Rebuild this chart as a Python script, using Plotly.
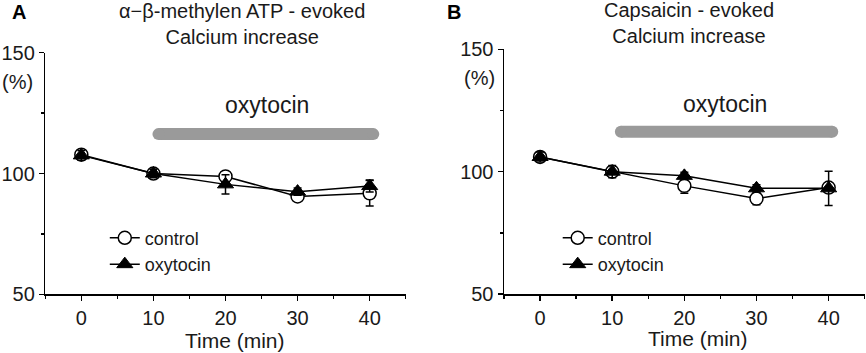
import plotly.graph_objects as go

# ---------------- data ----------------
time_min = [0, 10, 20, 30, 40]

# Panel A: alpha-beta-methylen ATP - evoked
a_control = [107.8, 100.0, 98.8, 90.5, 91.8]
a_control_err = [1.5, 1.2, 1.5, 1.5, 5.3]
a_oxytocin = [107.5, 100.0, 95.5, 92.5, 94.8]
a_oxytocin_err = [2.0, 1.8, 4.0, 1.5, 2.5]

# Panel B: Capsaicin - evoked
b_control = [106.0, 100.0, 94.2, 89.0, 93.5]
b_control_err = [1.5, 1.5, 3.0, 2.5, 2.0]
b_oxytocin = [106.0, 100.0, 98.3, 93.2, 93.2]
b_oxytocin_err = [2.0, 2.5, 1.5, 1.5, 7.0]

# oxytocin application bar
a_bar_x = [10.7, 40.5]
b_bar_x = [11.2, 40.5]
bar_level = 116.3

x_ticks = [0, 10, 20, 30, 40]
y_ticks = [50, 100, 150]

FONT = "Liberation Sans, Arial, sans-serif"
TXT = "#1a1a1a"

fig = go.Figure()


def add_panel(xa, ya, ctrl, ctrl_err, oxy, oxy_err, bar_x, legend_name):
    fig.add_trace(go.Scatter(
        x=bar_x, y=[bar_level, bar_level], mode="lines+markers",
        line=dict(color="#9a9a9a", width=12),
        marker=dict(color="#9a9a9a", size=12, symbol="circle"),
        showlegend=False, hoverinfo="skip", xaxis=xa, yaxis=ya))
    fig.add_trace(go.Scatter(
        x=time_min, y=ctrl, name="control", mode="lines+markers",
        line=dict(color="black", width=1.5),
        marker=dict(symbol="circle", size=13, color="white",
                    line=dict(color="black", width=1.5)),
        error_y=dict(type="data", array=ctrl_err, visible=True,
                     color="black", thickness=1.5, width=4),
        legend=legend_name, xaxis=xa, yaxis=ya))
    fig.add_trace(go.Scatter(
        x=time_min, y=oxy, name="oxytocin", mode="lines+markers",
        line=dict(color="black", width=1.5),
        marker=dict(symbol="triangle-up", size=14, color="black",
                    line=dict(color="black", width=1)),
        error_y=dict(type="data", array=oxy_err, visible=True,
                     color="black", thickness=1.5, width=4),
        legend=legend_name, xaxis=xa, yaxis=ya))


add_panel("x", "y", a_control, a_control_err, a_oxytocin, a_oxytocin_err, a_bar_x, "legend")
add_panel("x2", "y2", b_control, b_control_err, b_oxytocin, b_oxytocin_err, b_bar_x, "legend2")

xcommon = dict(range=[-5, 45], tickvals=x_ticks, showline=True, linecolor="black",
               linewidth=1.5, ticks="outside", ticklen=5, tickwidth=1.5,
               tickcolor="black", showgrid=False, zeroline=False,
               tickfont=dict(family=FONT, size=20, color=TXT),
               minor=dict(dtick=5, tick0=0, ticks="outside", ticklen=3,
                          tickwidth=1.5, tickcolor="black", showgrid=False))
ycommon = dict(range=[50, 150], tickvals=y_ticks, showline=True, linecolor="black",
               linewidth=1.5, ticks="outside", ticklen=5, tickwidth=1.5,
               tickcolor="black", showgrid=False, zeroline=False,
               tickfont=dict(family=FONT, size=20, color=TXT),
               minor=dict(dtick=25, tick0=0, ticks="outside", ticklen=3,
                          tickwidth=1.5, tickcolor="black", showgrid=False))

fig.update_layout(
    width=866, height=353,
    margin=dict(l=0, r=0, t=0, b=0),
    paper_bgcolor="white", plot_bgcolor="rgba(0,0,0,0)",
    template="none",
    font=dict(family=FONT, color=TXT),
    xaxis=dict(domain=[0.0523, 0.4685], anchor="y", **xcommon),
    yaxis=dict(domain=[0.1663, 0.8507], anchor="x", **ycommon),
    xaxis2=dict(domain=[0.582, 0.9985], anchor="y2", **xcommon),
    yaxis2=dict(domain=[0.167, 0.8603], anchor="x2", **ycommon),
    legend=dict(x=0.121, y=0.378, xanchor="left", yanchor="top",
                bgcolor="rgba(0,0,0,0)", font=dict(family=FONT, size=18, color=TXT),
                tracegroupgap=0, itemwidth=30),
    legend2=dict(x=0.644, y=0.378, xanchor="left", yanchor="top",
                 bgcolor="rgba(0,0,0,0)", font=dict(family=FONT, size=18, color=TXT),
                 tracegroupgap=0, itemwidth=30),
    showlegend=True,
)

ann = []
# panel letters
ann.append(dict(text="<b>A</b>", x=0.0115, y=0.966, xref="paper", yref="paper",
                xanchor="left", yanchor="middle", showarrow=False,
                font=dict(family=FONT, size=20, color="black")))
ann.append(dict(text="<b>B</b>", x=0.5139, y=0.966, xref="paper", yref="paper",
                xanchor="left", yanchor="middle", showarrow=False,
                font=dict(family=FONT, size=20, color="black")))
# titles
ann.append(dict(text="α−β-methylen ATP - evoked<br>Calcium increase", x=0.2791, y=0.9334,
                xref="paper", yref="paper", xanchor="center", yanchor="middle",
                showarrow=False, font=dict(family=FONT, size=20, color=TXT)))
ann.append(dict(text="Capsaicin - evoked<br>Calcium increase", x=0.7956, y=0.9345,
                xref="paper", yref="paper", xanchor="center", yanchor="middle",
                showarrow=False, font=dict(family=FONT, size=20, color=TXT)))
# (%) labels
ann.append(dict(text="(%)", x=17.5 / 866, y=1 - 82 / 353, xref="paper", yref="paper",
                xanchor="center", yanchor="middle", showarrow=False,
                font=dict(family=FONT, size=20, color=TXT)))
ann.append(dict(text="(%)", x=479.7 / 866, y=1 - 78 / 353, xref="paper", yref="paper",
                xanchor="center", yanchor="middle", showarrow=False,
                font=dict(family=FONT, size=20, color=TXT)))
# oxytocin bar labels
ann.append(dict(text="oxytocin", x=25.7, y=128.3, xref="x", yref="y",
                xanchor="center", yanchor="middle", showarrow=False,
                font=dict(family=FONT, size=23, color=TXT)))
ann.append(dict(text="oxytocin", x=25.7, y=127.7, xref="x2", yref="y2",
                xanchor="center", yanchor="middle", showarrow=False,
                font=dict(family=FONT, size=23, color=TXT)))
# x axis titles
ann.append(dict(text="Time (min)", x=235 / 866, y=1 - 340 / 353, xref="paper", yref="paper",
                xanchor="center", yanchor="middle", showarrow=False,
                font=dict(family=FONT, size=21, color=TXT)))
ann.append(dict(text="Time (min)", x=698 / 866, y=1 - 338 / 353, xref="paper", yref="paper",
                xanchor="center", yanchor="middle", showarrow=False,
                font=dict(family=FONT, size=21, color=TXT)))
fig.update_layout(annotations=ann)

fig.write_html("out.html",
               config={"displayModeBar": False, "staticPlot": True},
               post_script="document.body.style.margin='0';document.body.style.padding='0';")
